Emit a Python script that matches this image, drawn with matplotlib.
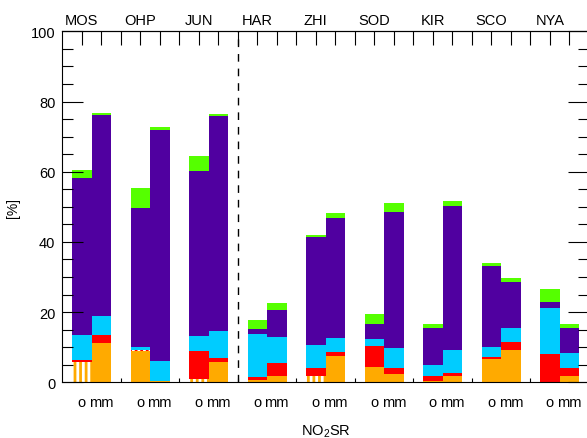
import matplotlib
matplotlib.use("Agg")
import matplotlib.pyplot as plt
import numpy as np

plt.rcParams["font.family"] = ["Liberation Sans", "DejaVu Sans"]
plt.rcParams["mathtext.fontset"] = "custom"
plt.rcParams["mathtext.rm"] = "Liberation Sans"
plt.rcParams["hatch.linewidth"] = 2.0

# stations, two bars each ("o" and "mm")
stations = ["MOS", "OHP", "JUN", "HAR", "ZHI", "SOD", "KIR", "SCO", "NYA"]
bar_labels = ["o", "mm"]

# segment heights [%], 18 bars: MOS o, MOS mm, OHP o, OHP mm, ...
orange = [5.9, 11.1, 8.8, 0.4, 1.0, 5.9, 0.7, 1.7, 1.7, 7.6, 4.4, 2.3, 0.3, 1.9, 6.6, 9.3, 0.2, 1.7]
red = [0.5, 2.4, 0.4, 0.0, 8.0, 0.9, 0.9, 3.8, 2.4, 1.1, 5.9, 1.8, 1.6, 0.7, 0.5, 2.1, 7.8, 2.4]
cyan = [7.1, 5.5, 0.8, 5.8, 4.1, 7.7, 12.3, 7.3, 6.5, 4.0, 2.1, 5.6, 3.1, 6.7, 2.9, 4.1, 13.1, 4.2]
purple = [44.6, 57.2, 39.7, 65.6, 47.0, 61.5, 1.3, 7.9, 30.7, 34.2, 4.2, 38.9, 10.5, 41.0, 23.1, 13.1, 1.8, 7.1]
green = [2.4, 0.6, 5.6, 0.9, 4.3, 0.5, 2.5, 1.8, 0.7, 1.4, 2.9, 2.5, 1.0, 1.4, 0.9, 1.1, 3.8, 1.2]

# bars whose segment is drawn striped instead of filled
striped_orange = [0, 4, 8]
striped_red = [2]

layers = [
    (orange, "#ffaa00", striped_orange),
    (red, "#ff0000", striped_red),
    (cyan, "#00ccff", []),
    (purple, "#5000a0", []),
    (green, "#55ff00", []),
]

fig = plt.figure(figsize=(5.87, 4.39), dpi=100)
ax = fig.add_axes([0.1061, 0.1269, 0.897, 0.7995])

n_st = len(stations)
x = np.array([3 * i + 1 + j for i in range(n_st) for j in range(2)], dtype=float)

bottom = np.zeros(len(x))
for vals, col, striped in layers:
    vals = np.array(vals)
    for k in range(len(x)):
        if k in striped:
            ax.bar(x[k], vals[k], 1.0, bottom=bottom[k], facecolor="white",
                   edgecolor=col, hatch="|||", linewidth=0)
        else:
            ax.bar(x[k], vals[k], 1.0, bottom=bottom[k], color=col, linewidth=0)
    bottom += vals

# separator between JUN and HAR
ax.axvline(9, color="black", lw=1.0, ls=(0, (5.5, 5)))

ax.set_xlim(0, 3 * n_st)
ax.set_ylim(0, 100)

for s in ax.spines.values():
    s.set_linewidth(0.8)

ax.set_yticks(np.arange(0, 101, 20))
ax.set_yticks(np.arange(0, 101, 5), minor=True)
ax.tick_params(axis="y", which="major", direction="in", length=15, width=0.8,
               right=True, labelsize=10.5, pad=5)
ax.tick_params(axis="y", which="minor", direction="in", length=8, width=0.8, right=True)

ax.set_xticks(x)
ax.set_xticklabels(bar_labels * n_st)
ax.set_xticks(np.arange(3, 3 * n_st, 3), minor=True)
ax.tick_params(axis="x", which="major", length=0, labelsize=10.5, pad=9)
ax.tick_params(axis="x", which="minor", direction="in", length=3, width=0.8)

top = ax.secondary_xaxis("top")
top.set_xticks(np.arange(n_st) * 3 + 1)
top.set_xticklabels(stations)
top.set_xticks([t for t in range(1, 3 * n_st) if t % 3 != 1], minor=True)
top.tick_params(which="both", direction="in", length=10, width=0.8, labelsize=10.5, pad=3)
top.spines["top"].set_linewidth(0.8)

ax.set_ylabel("[%]", fontsize=10, labelpad=8)
ax.set_xlabel("NO$_2$SR", fontsize=10.5, labelpad=10)

fig.savefig("out.png", dpi=100)
